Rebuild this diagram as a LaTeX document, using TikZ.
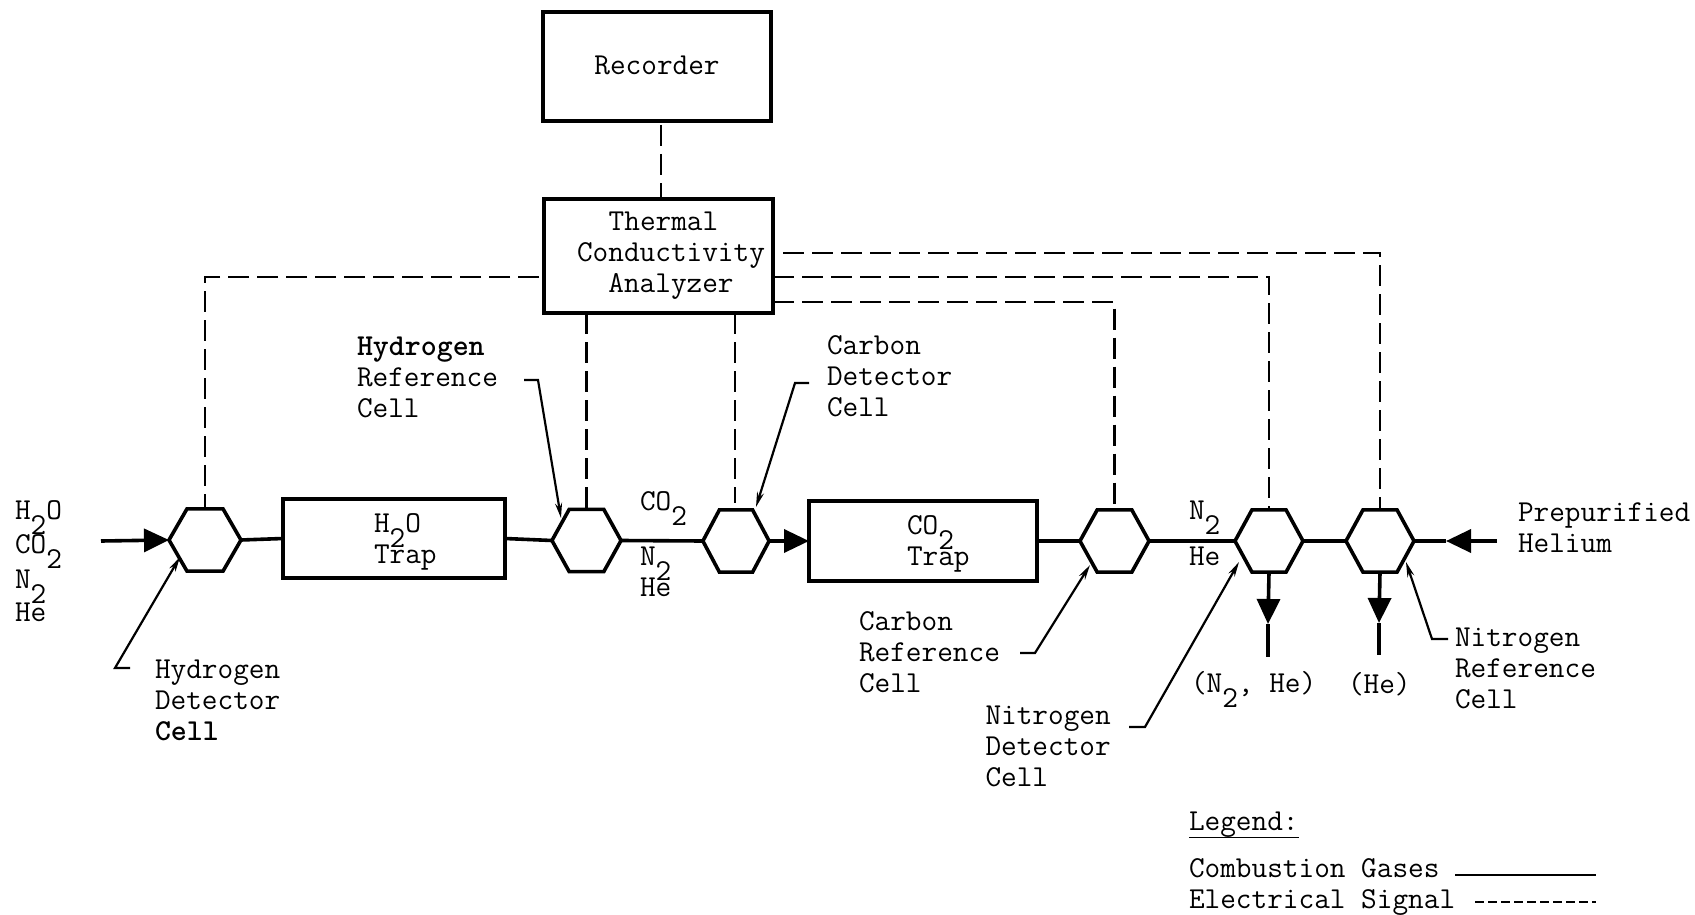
\documentclass[tikz,border=0pt]{standalone}
\usepackage{fontspec}
\usetikzlibrary{arrows.meta,shapes.geometric,calc}
\newcommand{\subtwo}{\smash{\raisebox{-15pt}{2}}}
\tikzset{
  every node/.style={inner sep=0pt,outer sep=0pt},
  boxn/.style={draw,line width=3.6pt,rectangle,font=\ttfamily\fontsize{30.4pt}{31pt}\selectfont},
  hexn/.style={draw,line width=3.6pt,regular polygon,regular polygon sides=6,minimum size=72pt,transform shape},
  txt/.style={anchor=west,align=left,font=\ttfamily\fontsize{30.4pt}{31pt}\selectfont},
  ctxt/.style={align=center,font=\ttfamily\fontsize{30.4pt}{31pt}\selectfont},
  flow/.style={line width=3.6pt},
  flowtip/.style={line width=3.6pt,-{Triangle[length=25pt,width=23pt]}},
  sig/.style={line width=2.8pt,dash pattern=on 21pt off 8pt},
  leader/.style={line width=2.2pt,-{Stealth[length=15pt,width=7pt]}},
}
\begin{document}
\begin{tikzpicture}[x=1pt,y=-1pt]
\useasboundingbox[fill=white] (0,0) rectangle (1695,915);
% boxes
\node[boxn,minimum width=228pt,minimum height=109pt,text depth=3pt] (rec) at (657,66.5) {Recorder};
\node[boxn,minimum width=229pt,minimum height=114pt] (tca) at (658.5,256) {};
\node[boxn,minimum width=222pt,minimum height=79pt] (tr1) at (394,538.5) {};
\node[boxn,minimum width=228pt,minimum height=80pt] (tr2) at (923,541) {};
% hexagons
\node[hexn] (h1) at (205,540) {};
\node[hexn,xscale=0.96] (h2) at (586.5,540.5) {};
\node[hexn,xscale=0.92] (h3) at (736,541) {};
\node[hexn,xscale=0.96] (h4) at (1114.5,541) {};
\node[hexn,xscale=0.945] (h5) at (1269,541) {};
\node[hexn,xscale=0.945] (h6) at (1380,541) {};
% free ends
\coordinate (in) at (101,541);
\coordinate (he) at (1497,541);
\coordinate (hetip) at (1446,541);
\coordinate (t5) at (1268,624);
\coordinate (o5) at (1268,657);
\coordinate (t6) at (1379,623);
\coordinate (o6) at (1379,655);
\coordinate (r1) at (661,125);
\coordinate (sL) at (539,277);
\coordinate (sT) at (783,253);
\coordinate (s5) at (773,277);
\coordinate (s4) at (773,302);
\coordinate (h3top) at (735,503);
% flow lines
\draw[flowtip] (in) -- (h1.west);
\draw[flow] (h1.east) -- (tr1.west);
\draw[flow] (tr1.east) -- (h2.west);
\draw[flow] (h2.east) -- (h3.west);
\draw[flowtip] (h3.east) -- (tr2.west);
\draw[flow] (tr2.east) -- (h4.west);
\draw[flow] (h4.east) -- (h5.west);
\draw[flow] (h5.east) -- (h6.west);
\draw[flowtip] (he) -- (hetip);
\draw[flow] (hetip) -- (h6.east);
\draw[flowtip] (h5.south) -- (t5);
\draw[flow] (t5) -- (o5);
\draw[flowtip] (h6.south) -- (t6);
\draw[flow] (t6) -- (o6);
% signal lines
\draw[sig] (r1) -- (r1 |- tca.north);
\draw[sig] (sL) -| (h1.north);
\draw[sig] (tca.south -| h2.north) -- (h2.north);
\draw[sig] (tca.south -| h3top) -- (h3top);
\draw[sig] (s4) -| (h4.north);
\draw[sig] (s5) -| (h5.north);
\draw[sig] (sT) -| (h6.north);
% leaders
\coordinate (a1) at (130,668); \coordinate (a2) at (115,668); \coordinate (a3) at (180,557);
\coordinate (b1) at (524,380); \coordinate (b2) at (538,380); \coordinate (b3) at (561,518);
\coordinate (c1) at (809,383); \coordinate (c2) at (795,383); \coordinate (c3) at (756,507);
\coordinate (d1) at (1020,653); \coordinate (d2) at (1035,653); \coordinate (d3) at (1090,565);
\coordinate (e1) at (1129,727); \coordinate (e2) at (1145,727); \coordinate (e3) at (1239,562);
\coordinate (f1) at (1448,639); \coordinate (f2) at (1432,639); \coordinate (f3) at (1406,562);
\draw[leader] (a1) -- (a2) -- (a3);
\draw[leader] (b1) -- (b2) -- (b3);
\draw[leader] (c1) -- (c2) -- (c3);
\draw[leader] (d1) -- (d2) -- (d3);
\draw[leader] (e1) -- (e2) -- (e3);
\draw[leader] (f1) -- (f2) -- (f3);
% text
\node[ctxt] (tcal) at (671,256) {Thermal\hspace*{15pt}\\Conductivity\\Analyzer};
\node[txt] (lgas) at (15,561) {H\subtwo{}O\\[3.5pt]CO\subtwo\\[3.5pt]N\subtwo\\[2pt]He};
\node[txt] (l1) at (374,542) {H\subtwo{}O\\Trap};
\node[txt] (l2) at (907,544) {CO\subtwo\\Trap};
\node[txt] (l3) at (640,501) {CO\subtwo};
\node[txt] (l4) at (640,572) {N\subtwo\\He};
\node[txt] (l5) at (1189,533) {N\subtwo\\[15pt]He};
\node[txt] (l6) at (155,700) {Hydrogen\\Detector\\{\bfseries Cell}};
\node[txt] (l7) at (357,377) {{\bfseries Hydrogen}\\Reference\\Cell};
\node[txt] (l8) at (827,376) {Carbon\\Detector\\Cell};
\node[txt] (l9) at (859,652) {Carbon\\Reference\\Cell};
\node[txt] (l10) at (985.5,746) {Nitrogen\\Detector\\Cell};
\node[txt] (l11) at (1455,668) {Nitrogen\\Reference\\Cell};
\node[txt] (l12) at (1518,528) {Prepurified\\Helium};
\node[txt] (l13) at (1191,684) {(N\subtwo, He)};
\node[txt] (l14) at (1348,684) {(He)};
% legend
\node[txt,anchor=base west] (leg) at (1189,830.5) {Legend:};
\draw[line width=1.8pt] (leg.south west) -- (leg.south east);
\node[txt,anchor=base west] (lg1) at (1189,877) {Combustion Gases};
\node[txt,anchor=base west] (lg2) at (1189,908) {Electrical Signal};
\coordinate (m1) at (1455,875); \coordinate (m2) at (1596,875);
\coordinate (n1) at (1475,902); \coordinate (n2) at (1596,902);
\draw[line width=2.4pt] (m1) -- (m2);
\draw[line width=2.6pt,dash pattern=on 9pt off 4pt] (n1) -- (n2);
\end{tikzpicture}
\end{document}
